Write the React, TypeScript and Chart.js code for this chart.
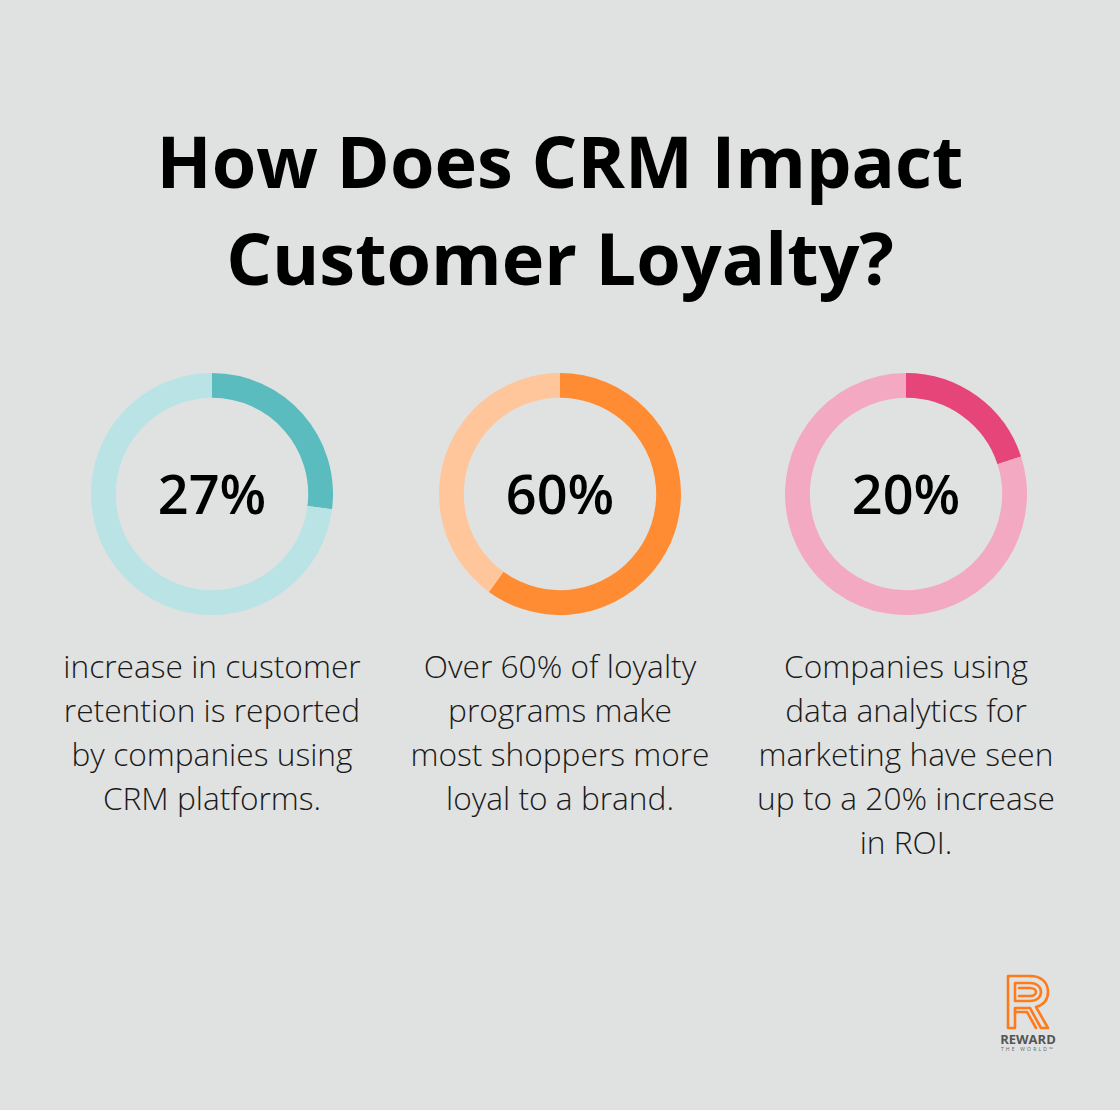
import React, { useEffect, useRef } from "react";
import { Chart, registerables } from "chart.js";

Chart.register(...registerables);

const titleLines = ["How Does CRM Impact", "Customer Loyalty?"];
const percentValues = [27, 60, 20];
const percentLabels = ["27%", "60%", "20%"];
const descriptions = [
  ["increase in customer", "retention is reported", "by companies using", "CRM platforms."],
  ["Over 60% of loyalty", "programs make", "most shoppers more", "loyal to a brand."],
  ["Companies using", "data analytics for", "marketing have seen", "up to a 20% increase", "in ROI."],
];
const darkColors = ["#5bbcbf", "#ff8c33", "#e6457a"];
const lightColors = ["#b9e3e5", "#ffc69c", "#f2a9c1"];

const BG = "#e0e2e1";
const centersX = [212, 560, 906];
const centerY = 494;
const SIZE = 242;

function Donut({ idx }: { idx: number }) {
  const ref = useRef<HTMLCanvasElement | null>(null);
  useEffect(() => {
    if (!ref.current) return;
    const v = percentValues[idx];
    const chart = new Chart(ref.current, {
      type: "doughnut",
      data: {
        labels: ["value", "rest"],
        datasets: [
          {
            data: [v, 100 - v],
            backgroundColor: [darkColors[idx], lightColors[idx]],
            borderWidth: 0,
          },
        ],
      },
      options: {
        responsive: false,
        animation: false,
        cutout: "79.5%",
        layout: { padding: 0 },
        plugins: { legend: { display: false }, tooltip: { enabled: false } },
      },
    });
    return () => chart.destroy();
  }, [idx]);
  return (
    <canvas
      ref={ref}
      width={SIZE}
      height={SIZE}
      style={{
        position: "absolute",
        left: centersX[idx] - SIZE / 2,
        top: centerY - SIZE / 2,
        width: SIZE,
        height: SIZE,
      }}
    />
  );
}

export default function App() {
  useEffect(() => {
    document.body.style.margin = "0";
  }, []);
  return (
    <div
      style={{
        position: "absolute",
        left: 0,
        top: 0,
        width: 1120,
        height: 1110,
        background: BG,
        fontFamily: "'Open Sans', sans-serif",
        overflow: "hidden",
      }}
    >
      {titleLines.map((t, i) => (
        <div
          key={i}
          style={{
            position: "absolute",
            left: 0,
            width: 1120,
            top: 110 + i * 97,
            textAlign: "center",
            fontSize: 72,
            fontWeight: 700,
            lineHeight: "100px",
            color: "#000",
          }}
        >
          {t}
        </div>
      ))}
      {percentValues.map((_, i) => (
        <React.Fragment key={i}>
          <Donut idx={i} />
          <div
            style={{
              position: "absolute",
              left: centersX[i] - 100,
              width: 200,
              top: centerY - 36,
              textAlign: "center",
              fontSize: 54,
              fontWeight: 600,
              lineHeight: "70px",
              color: "#000",
            }}
          >
            {percentLabels[i]}
          </div>
          {descriptions[i].map((line, j) => (
            <div
              key={j}
              style={{
                position: "absolute",
                left: centersX[i] - 170,
                width: 340,
                top: 644 + j * 44,
                textAlign: "center",
                fontSize: 31.7,
                fontWeight: 300,
                lineHeight: "44px",
                color: "#1a1a1a",
                whiteSpace: "nowrap",
              }}
            >
              {line}
            </div>
          ))}
        </React.Fragment>
      ))}
      <svg
        style={{ position: "absolute", left: 990, top: 968 }}
        width={80}
        height={90}
        viewBox="0 0 80 90"
      >
        <g fill="none" stroke="#ff7a1a" strokeWidth={2.6} strokeLinejoin="round" strokeLinecap="round">
          <path d="M18 60 V8 H40 C52 8 58 15 58 24 C58 32 53 37 46 39 L58 60 H51 L40 40 H25 V60 Z" />
          <path d="M25 15 H40 C47 15 51 19 51 24 C51 29 47 33 40 33 H25 Z" />
          <path d="M29 20 H40 C44 20 46 22 46 24 C46 26 44 28 40 28 H29" />
          <path d="M25 44 H37 L46 60" />
        </g>
        <text
          x={38}
          y={76}
          textAnchor="middle"
          fontFamily="'Open Sans', sans-serif"
          fontWeight={700}
          fontSize={13}
          fill="#555"
        >
          REWARD
        </text>
        <text
          x={38}
          y={83}
          textAnchor="middle"
          fontFamily="'Open Sans', sans-serif"
          fontSize={5}
          letterSpacing={2.2}
          fill="#666"
        >
          THE WORLD™
        </text>
      </svg>
    </div>
  );
}
